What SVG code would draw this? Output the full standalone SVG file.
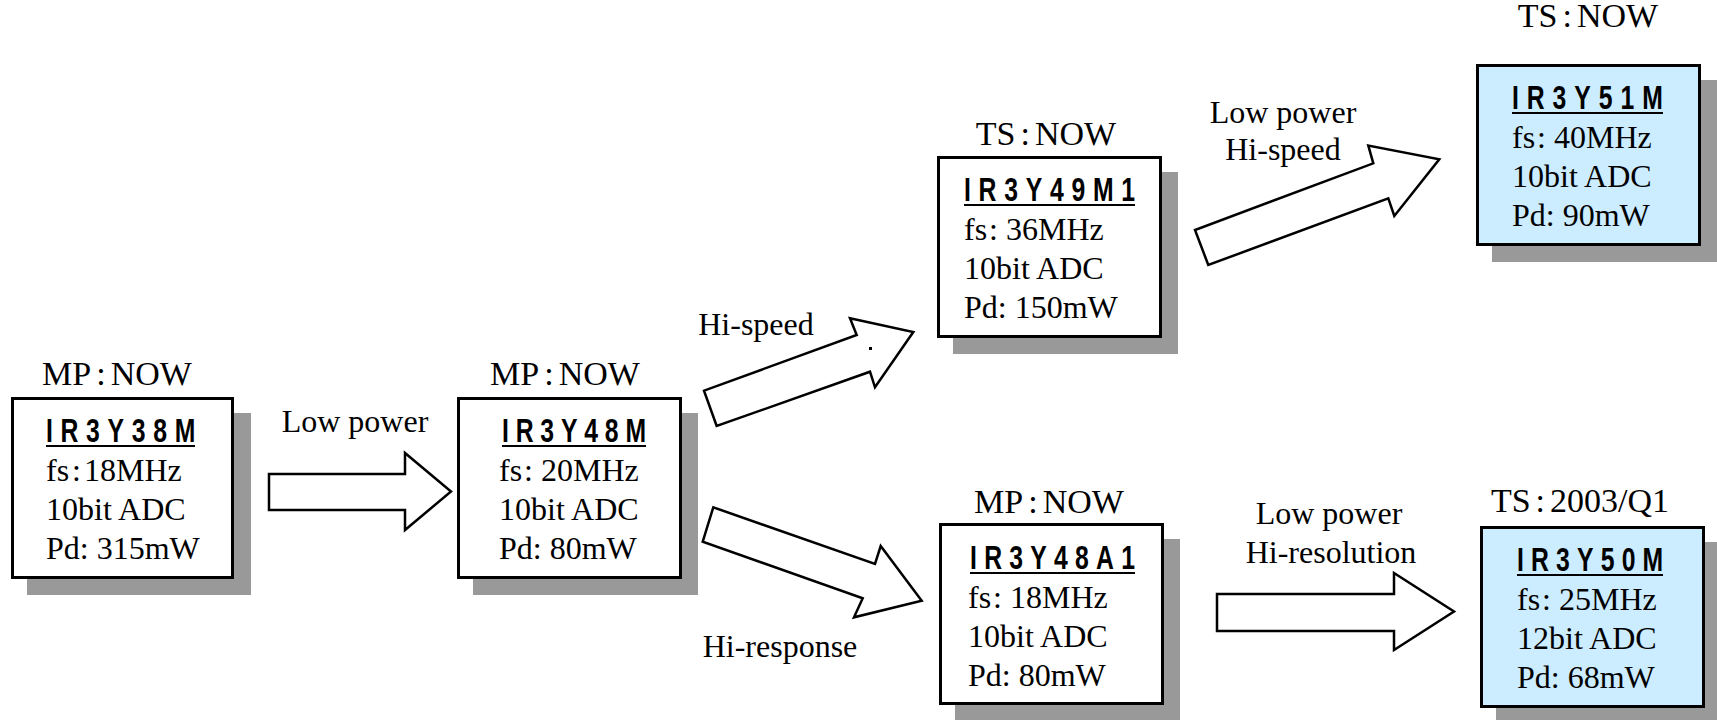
<svg xmlns="http://www.w3.org/2000/svg" width="1717" height="720" viewBox="0 0 1717 720">
<style>
.bg{fill:#ffffff}
.shadow{fill:#999999}
.box{fill:#ffffff;stroke:#000000;stroke-width:3}
.box.ts{fill:#CCECFF}
.t{font-family:"Liberation Serif","Times New Roman",serif;font-size:32px;fill:#000000}
.title{font-size:34px}
.c{text-anchor:middle}
.ir{font-family:"Liberation Sans",Arial,sans-serif;font-weight:bold;font-size:33px;fill:#000000}
.ul{stroke:#000000;stroke-width:2}
.arrow{fill:#ffffff;stroke:#000000;stroke-width:2.5;stroke-linejoin:miter}
</style>
<rect class="bg" x="0" y="0" width="1717" height="720"/>

<g id="connectors">
  <g id="arrow-low-power">
    <polygon class="arrow" points="269,474 405,474 405,453 451,491.5 405,530 405,510 269,510"/>
    <text class="t c" x="355" y="432">Low power</text>
  </g>
  <g id="arrow-hi-speed">
    <polygon class="arrow" points="716.7,426 704,390.7 856.7,335 850,318.3 913.3,332 875,387.3 870,371.7"/>
    <rect x="869" y="347" width="3" height="3" fill="#000000"/>
    <text class="t c" x="756" y="335">Hi-speed</text>
  </g>
  <g id="arrow-hi-response">
    <polygon class="arrow" points="713.3,507.3 702.7,541.7 862.7,598.3 854,617.3 921.7,600.7 880.7,546 875,564"/>
    <text class="t c" x="780" y="657">Hi-response</text>
  </g>
  <g id="arrow-low-power-hi-speed">
    <polygon class="arrow" points="1208.3,265 1195,230 1373.3,163.3 1368.3,145.5 1439.3,159.3 1394.3,216 1388.3,198.3"/>
    <text class="t c" x="1283" y="123">Low power</text>
    <text class="t c" x="1283" y="160">Hi-speed</text>
  </g>
  <g id="arrow-low-power-hi-resolution">
    <polygon class="arrow" points="1217,594 1394,594 1394,573 1454,611.5 1394,650 1394,631 1217,631"/>
    <text class="t c" x="1329" y="524">Low power</text>
    <text class="t c" x="1331" y="563">Hi-resolution</text>
  </g>
</g>

<g id="node-IR3Y38M">
  <rect class="shadow" x="27" y="413" width="224" height="182"/>
  <rect class="box" x="12.5" y="398.5" width="220" height="179"/>
  <text class="t title c" x="117" y="385">MP<tspan dx="5">:</tspan><tspan dx="5">NOW</tspan></text>
  <text class="ir" transform="translate(46,442) scale(0.75,1)" x="0" y="0" textLength="199" lengthAdjust="spacing">IR3Y38M</text>
  <line class="ul" x1="46" y1="446" x2="195" y2="446"/>
  <text class="t" x="46" y="481">fs<tspan dx="3">:</tspan><tspan dx="3">18MHz</tspan></text>
  <text class="t" x="46" y="520">10bit ADC</text>
  <text class="t" x="46" y="559">Pd: 315mW</text>
</g>

<g id="node-IR3Y48M">
  <rect class="shadow" x="473" y="413" width="225" height="182"/>
  <rect class="box" x="458.5" y="398.5" width="222" height="179"/>
  <text class="t title c" x="565" y="385">MP<tspan dx="5">:</tspan><tspan dx="5">NOW</tspan></text>
  <text class="ir" transform="translate(502,442) scale(0.75,1)" x="0" y="0" textLength="192" lengthAdjust="spacing">IR3Y48M</text>
  <line class="ul" x1="502" y1="446" x2="646" y2="446"/>
  <text class="t" x="499" y="481">fs<tspan dx="2">:</tspan> 20MHz</text>
  <text class="t" x="499" y="520">10bit ADC</text>
  <text class="t" x="499" y="559">Pd: 80mW</text>
</g>

<g id="node-IR3Y49M1">
  <rect class="shadow" x="953" y="172" width="225" height="182"/>
  <rect class="box" x="938.5" y="157.5" width="222" height="179"/>
  <text class="t title c" x="1046" y="145">TS<tspan dx="5">:</tspan><tspan dx="5">NOW</tspan></text>
  <text class="ir" transform="translate(964,201) scale(0.75,1)" x="0" y="0" textLength="228" lengthAdjust="spacing">IR3Y49M1</text>
  <line class="ul" x1="964" y1="205" x2="1135" y2="205"/>
  <text class="t" x="964" y="240">fs<tspan dx="2">:</tspan> 36MHz</text>
  <text class="t" x="964" y="279">10bit ADC</text>
  <text class="t" x="964" y="318">Pd: 150mW</text>
</g>

<g id="node-IR3Y51M">
  <rect class="shadow" x="1492" y="80" width="225" height="182"/>
  <rect class="box ts" x="1477.5" y="65.5" width="222" height="179"/>
  <text class="t title c" x="1588" y="27">TS<tspan dx="5">:</tspan><tspan dx="5">NOW</tspan></text>
  <text class="ir" transform="translate(1512,109) scale(0.75,1)" x="0" y="0" textLength="201" lengthAdjust="spacing">IR3Y51M</text>
  <line class="ul" x1="1512" y1="113" x2="1663" y2="113"/>
  <text class="t" x="1512" y="148">fs<tspan dx="2">:</tspan> 40MHz</text>
  <text class="t" x="1512" y="187">10bit ADC</text>
  <text class="t" x="1512" y="226">Pd: 90mW</text>
</g>

<g id="node-IR3Y48A1">
  <rect class="shadow" x="955" y="539" width="225" height="182"/>
  <rect class="box" x="940.5" y="524.5" width="222" height="179"/>
  <text class="t title c" x="1049" y="513">MP<tspan dx="5">:</tspan><tspan dx="5">NOW</tspan></text>
  <text class="ir" transform="translate(970,569) scale(0.75,1)" x="0" y="0" textLength="220" lengthAdjust="spacing">IR3Y48A1</text>
  <line class="ul" x1="970" y1="573" x2="1135" y2="573"/>
  <text class="t" x="968" y="608">fs<tspan dx="2">:</tspan> 18MHz</text>
  <text class="t" x="968" y="647">10bit ADC</text>
  <text class="t" x="968" y="686">Pd: 80mW</text>
</g>

<g id="node-IR3Y50M">
  <rect class="shadow" x="1496" y="542" width="225" height="182"/>
  <rect class="box ts" x="1481.5" y="527.5" width="222" height="179"/>
  <text class="t title c" x="1580" y="512">TS<tspan dx="5">:</tspan><tspan dx="5">2003/Q1</tspan></text>
  <text class="ir" transform="translate(1517,571) scale(0.75,1)" x="0" y="0" textLength="195" lengthAdjust="spacing">IR3Y50M</text>
  <line class="ul" x1="1517" y1="575" x2="1663" y2="575"/>
  <text class="t" x="1517" y="610">fs<tspan dx="2">:</tspan> 25MHz</text>
  <text class="t" x="1517" y="649">12bit ADC</text>
  <text class="t" x="1517" y="688">Pd: 68mW</text>
</g>
</svg>
